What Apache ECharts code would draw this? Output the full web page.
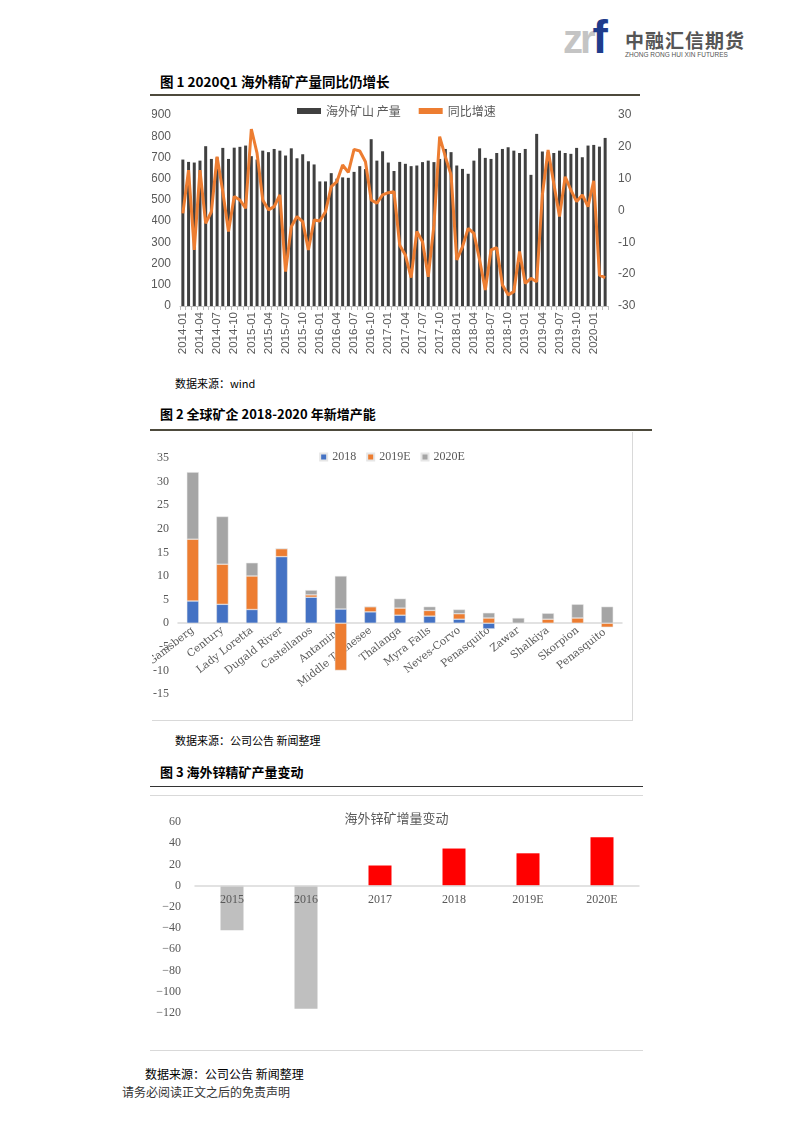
<!DOCTYPE html>
<html><head><meta charset="utf-8">
<script src="https://cdn.jsdelivr.net/npm/echarts@6/dist/echarts.min.js"></script>
<style>
body{margin:0;background:#fff;width:793px;height:1122px;position:relative;overflow:hidden;font-family:"Noto Sans CJK SC",sans-serif;color:#000;}
.abs{position:absolute;}
.title{font-weight:bold;font-size:13px;white-space:nowrap;}
.src{font-size:11px;white-space:nowrap;color:#000;}
</style></head><body>
<!-- header logo -->
<div class="abs" style="left:563px;top:14px;font-family:'Liberation Sans';font-weight:bold;font-size:40px;letter-spacing:-3px;line-height:46px;"><span style="color:#c4c4c4;">zr</span><span style="color:#1e3c8c;font-size:46px;">f</span></div>
<div class="abs" style="left:625px;top:26px;font-size:19px;font-weight:bold;color:#555;letter-spacing:1px;white-space:nowrap;">中融汇信期货</div>
<div class="abs" style="left:625px;top:51px;font-size:6.5px;color:#555;font-family:'Liberation Sans';white-space:nowrap;">ZHONG RONG HUI XIN FUTURES</div>

<div class="abs title" style="left:160px;top:71px;font-size:13.5px;">图 1 2020Q1 海外精矿产量同比仍增长</div>
<div class="abs" style="left:150px;top:94px;width:490px;height:0;border-top:2px solid #4d4a3c;"></div>
<div id="c1" class="abs" style="left:152px;top:97px;width:488px;height:275px;"></div>
<div class="abs src" style="left:175px;top:375px;">数据来源：wind</div>

<div class="abs title" style="left:160px;top:404px;">图 2 全球矿企 2018-2020 年新增产能</div>
<div class="abs" style="left:150px;top:429px;width:502px;height:0;border-top:2px solid #4d4a3c;"></div>
<div id="c2" class="abs" style="left:152px;top:432px;width:480px;height:288px;border-right:1px solid #d9d9d9;border-bottom:1px solid #d9d9d9;"></div>
<div class="abs src" style="left:175px;top:732px;">数据来源：公司公告 新闻整理</div>

<div class="abs title" style="left:160px;top:762px;">图 3 海外锌精矿产量变动</div>
<div class="abs" style="left:150px;top:786px;width:493px;height:0;border-top:1px solid #333;"></div>
<div id="c3" class="abs" style="left:150px;top:795px;width:493px;height:254px;border-top:1px solid #d9d9d9;border-bottom:1px solid #d9d9d9;"></div>
<div class="abs src" style="left:145px;top:1065px;font-size:12px;">数据来源：公司公告 新闻整理</div>
<div class="abs src" style="left:122px;top:1083px;font-size:12px;color:#333;">请务必阅读正文之后的免责声明</div>

<script>
// ---------- Chart 1 data ----------
var monthStart = 2014, monthCount = 75;
var months = [];
for (var k = 0; k < monthCount; k++) {
  var y = monthStart + Math.floor(k / 12), m = k % 12 + 1;
  months.push(y + '-' + (m < 10 ? '0' + m : m));
}
var production = [690,679,676,685,753,693,700,745,693,746,750,756,
  706,690,732,725,740,732,709,743,696,715,682,667,
  587,587,626,600,606,604,632,659,645,786,685,729,
  676,636,679,670,659,662,678,685,678,693,740,725,
  662,646,623,685,743,698,693,721,740,748,732,721,
  740,618,811,728,725,721,732,721,717,745,701,756,
  759,751,792];
var growth = [-0.9,12.7,-12.4,12.7,-4.0,-0.4,16.9,5.9,-6.6,4.4,3.3,0.7,
  25.6,18.0,3.3,0.2,1.2,4.9,-19.2,-5.1,-1.9,-3.5,-12.4,-3.0,
  -3.3,-0.4,7.5,9.1,14.3,12.0,19.2,18.7,15.3,3.3,2.3,4.9,
  5.6,5.9,-10.9,-14.0,-21.1,-6.6,-9.8,-20.8,-4.6,23.2,16.9,11.2,
  -15.5,-11.4,-5.6,-7.2,-15.5,-25.0,-12.4,-11.7,-23.4,-26.5,-25.5,-12.9,
  -22.9,-21.3,-22.4,4.9,19.0,8.5,-1.9,10.6,6.4,2.8,4.9,1.2,
  9.3,-20.3,-21.1];
var c1Names = ['海外矿山 产量', '同比增速'];

// ---------- Chart 2 data ----------
var mines = ['Gamsberg','Century','Lady Loretta','Dugald River','Castellanos','Antamina','Middle Tennesee','Thalanga','Myra Falls','Neves-Corvo','Penasquito','Zawar','Shalkiya','Skorpion','Penasquito '];
var add2018  = [4.7,4.0,2.9,14.1,5.5,3.0,2.4,1.7,1.5,0.85,-1.2,0,0,0,0];
var add2019E = [13.1,8.5,7.1,1.7,0.5,-10.0,1.1,1.5,1.2,1.15,1.1,0,0.85,1.1,-0.85];
var add2020E = [14.2,10.1,2.8,0,1.0,7.0,0,2.0,0.8,0.9,1.1,1.1,1.25,2.9,3.5];
var c2Names = ['2018','2019E','2020E'];

// ---------- Chart 3 data ----------
var years3 = ['2015','2016','2017','2018','2019E','2020E'];
var change3 = [-42,-116,19,35,30.5,45.7];

var gray = '#595959';
var serif = 'Liberation Serif';

var c1 = echarts.init(document.getElementById('c1'));
c1.setOption({
  animation:false,
  legend:{left:140, top:3, itemWidth:24, itemHeight:6, itemGap:18,
    textStyle:{fontSize:12,color:gray,fontFamily:'Noto Sans CJK SC'},
    data:[{name:c1Names[0],icon:'rect'},{name:c1Names[1],icon:'rect',itemStyle:{color:'#ED7D31'}}]},
  grid:{left:28, right:32, top:18, bottom:66, outerBoundsMode:'none', containLabel:false},
  xAxis:{type:'category', data:months,
    axisLine:{lineStyle:{color:'#bfbfbf'}},
    axisTick:{show:true, interval:0, length:4, lineStyle:{color:'#bfbfbf'}},
    axisLabel:{interval:2, rotate:90, fontSize:11.5, color:gray, fontFamily:'Liberation Sans', margin:6}},
  yAxis:[
    {type:'value', min:0, max:900, interval:100, splitLine:{show:false},
      axisLine:{show:false}, axisTick:{show:false},
      axisLabel:{fontSize:12, color:gray, fontFamily:'Liberation Sans', margin:9}},
    {type:'value', min:-30, max:30, interval:10, position:'right', splitLine:{show:false},
      axisLine:{show:false}, axisTick:{show:false},
      axisLabel:{fontSize:12, color:gray, fontFamily:'Liberation Sans', margin:10}}
  ],
  series:[
    {name:c1Names[0], type:'bar', data:production, barWidth:3, itemStyle:{color:'#404040'}},
    {name:c1Names[1], type:'line', yAxisIndex:1, data:growth, symbol:'none',
      lineStyle:{color:'#ED7D31', width:3}, itemStyle:{color:'#ED7D31'}}
  ]
});

// chart 2: zero line sits 15/50 of plot height above the bottom
var c2H = 288, c2Top = 26, c2Bottom = 26;
var c2Zero = (c2H - c2Top - c2Bottom) * 15 / 50;
var c2 = echarts.init(document.getElementById('c2'));
c2.setOption({
  animation:false,
  legend:{left:'center', top:14, itemWidth:7, itemHeight:7, itemGap:10, icon:'rect',
    textStyle:{fontSize:12,color:gray,fontFamily:serif}},
  grid:{left:26, right:10, top:c2Top, bottom:c2Bottom, outerBoundsMode:'none', containLabel:false},
  xAxis:{type:'category', data:mines, offset:-c2Zero,
    axisLine:{onZero:false, lineStyle:{color:'#d9d9d9', width:1.5}},
    axisTick:{show:false},
    axisLabel:{interval:0, rotate:38, fontSize:10.5, color:gray, fontFamily:'DejaVu Serif', margin:6}},
  yAxis:{type:'value', min:-15, max:35, interval:5, splitLine:{show:false},
    axisLine:{show:false}, axisTick:{show:false},
    axisLabel:{fontSize:12, color:gray, fontFamily:serif, margin:9}},
  series:[
    {name:c2Names[0], type:'bar', stack:'s', data:add2018, barWidth:12, itemStyle:{color:'#4472C4', borderColor:'#e6e6e6', borderWidth:0.5}},
    {name:c2Names[1], type:'bar', stack:'s', data:add2019E, barWidth:12, itemStyle:{color:'#ED7D31', borderColor:'#e6e6e6', borderWidth:0.5}},
    {name:c2Names[2], type:'bar', stack:'s', data:add2020E, barWidth:12, itemStyle:{color:'#A5A5A5', borderColor:'#e6e6e6', borderWidth:0.5}}
  ]
});

// chart 3: zero line sits 120/180 of plot height above the bottom
var c3H = 254, c3Top = 26, c3Bottom = 37;
var c3Zero = (c3H - c3Top - c3Bottom) * 120 / 180;
var c3 = echarts.init(document.getElementById('c3'));
c3.setOption({
  animation:false,
  title:{text:'海外锌矿增量变动', left:'center', top:11,
    textStyle:{fontSize:13, color:gray, fontWeight:'normal', fontFamily:'Noto Sans CJK SC'}},
  grid:{left:45, right:4, top:c3Top, bottom:c3Bottom, outerBoundsMode:'none', containLabel:false},
  xAxis:{type:'category', data:years3, offset:-c3Zero, z:10,
    axisLine:{onZero:false, lineStyle:{color:'#d9d9d9', width:1.5}},
    axisTick:{show:false},
    axisLabel:{fontSize:12, color:gray, fontFamily:serif, margin:8}},
  yAxis:{type:'value', min:-120, max:60, interval:20, splitLine:{show:false},
    axisLine:{show:false}, axisTick:{show:false},
    axisLabel:{fontSize:12, color:gray, fontFamily:serif, margin:14,
      formatter:function(v){return v < 0 ? '\u2212' + Math.abs(v) : String(v);}}},
  series:[
    {type:'bar', data:change3, barWidth:23, z:1,
      itemStyle:{color:function(p){return p.value < 0 ? '#BFBFBF' : '#FF0000';}}}
  ]
});
</script>
</body></html>
